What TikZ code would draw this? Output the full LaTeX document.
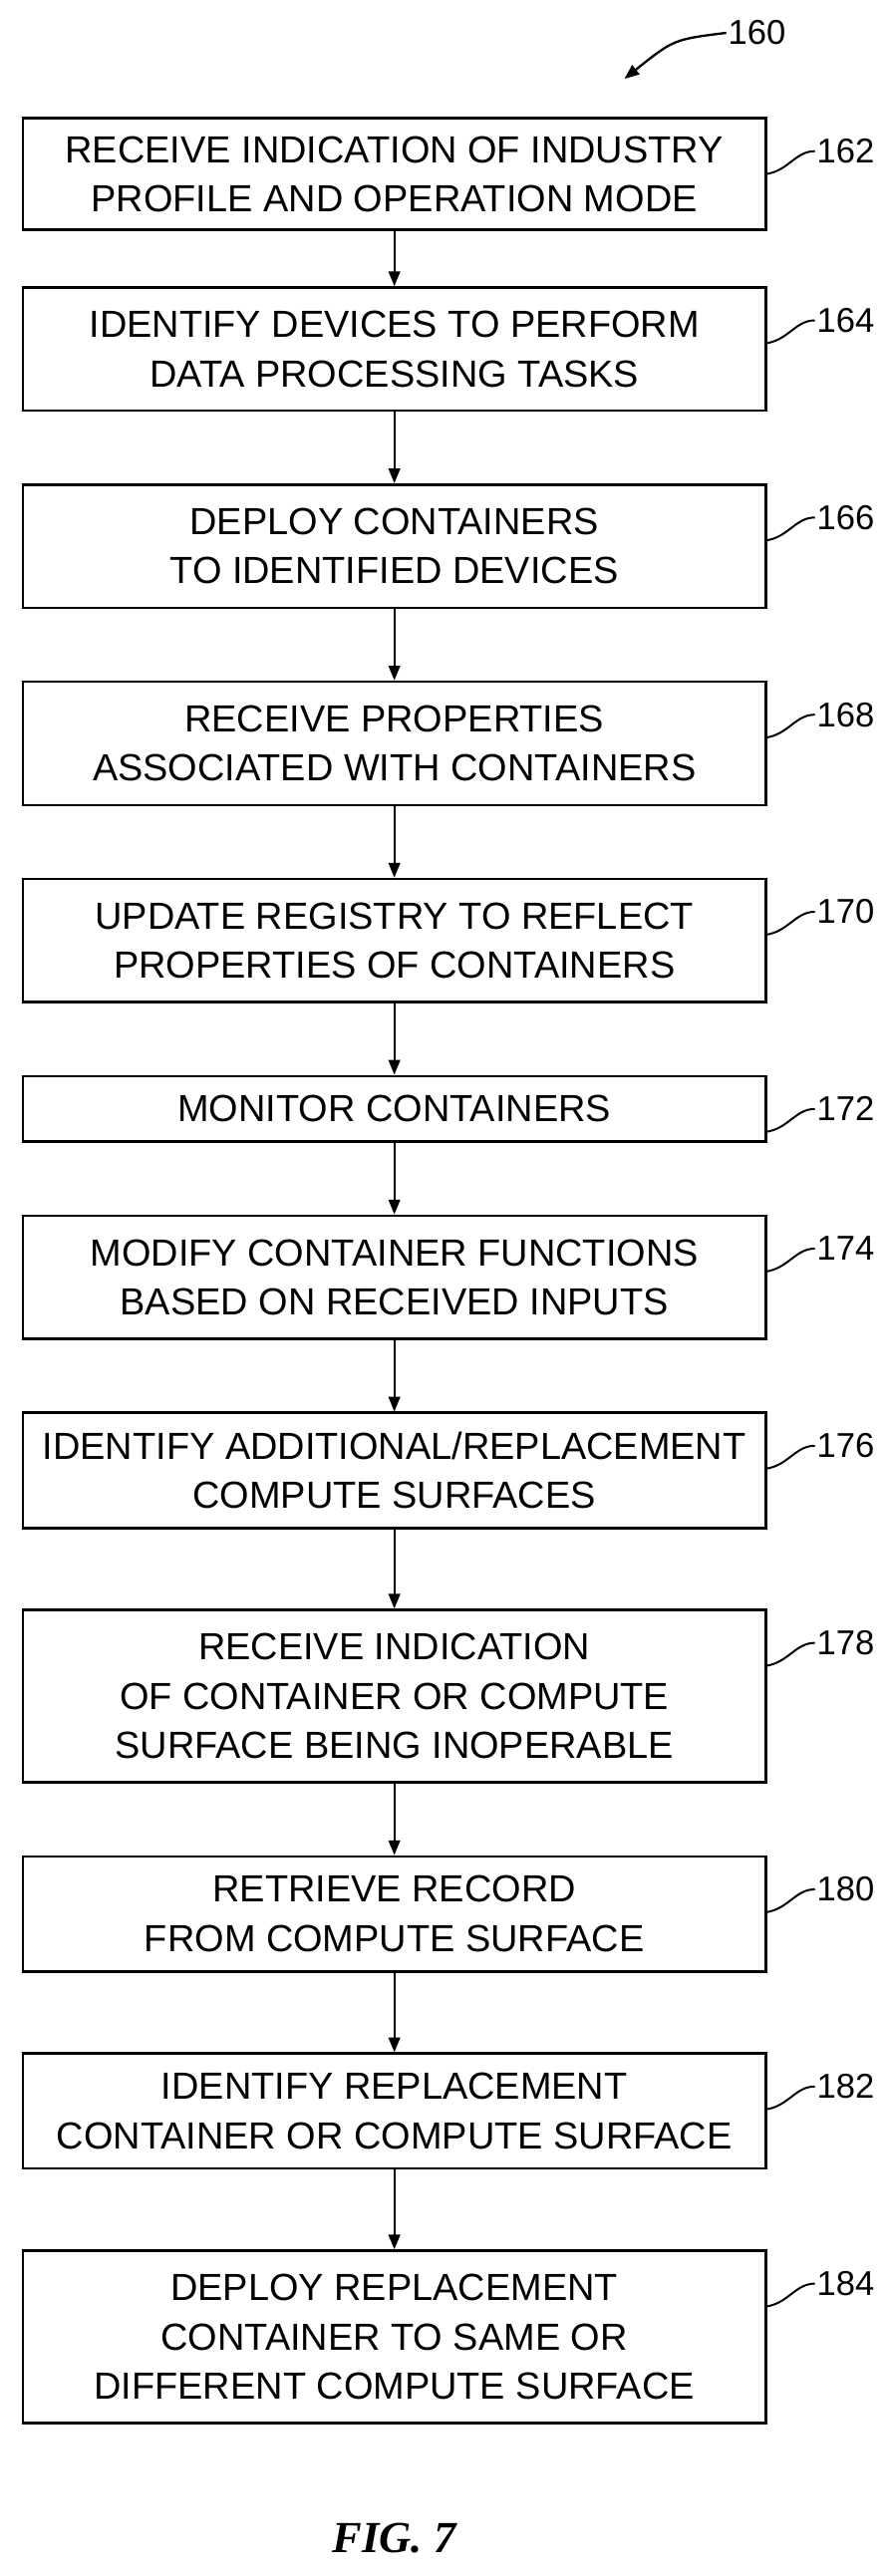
\documentclass[tikz,border=0pt]{standalone}
\usepackage{fontspec}
\setmainfont{Liberation Sans}
\newfontfamily\figfont{Liberation Serif}
\usetikzlibrary{arrows.meta}
\begin{document}
\begin{tikzpicture}[x=1pt,y=-1pt,
 box/.style={draw,line width=1.6pt,minimum width=452pt,align=center,font=\fontsize{23}{30}\selectfont,inner sep=0pt},
 arr/.style={line width=1.4pt,-{Triangle[length=9pt,width=7pt]}},
 lbl/.style={font=\fontsize{21}{22}\selectfont,anchor=west,inner sep=1pt},
 lead/.style={line width=1.2pt}]
\useasboundingbox (0,0) rectangle (542,1568);
\def\bx#1#2#3#4{\node[box,minimum height=#3-#2 pt] (b#1) at (240,{(#2+#3)/2}) {#4};
 \node[lbl] (l#1) at (496,#2+20) {#1};
 \draw[lead] (466,#2+34) .. controls (480,#2+32) and (484,#2+20) .. (l#1.west);}
\bx{162}{72}{140}{RECEIVE INDICATION OF INDUSTRY\\PROFILE AND OPERATION MODE}
\bx{164}{175}{250}{IDENTIFY DEVICES TO PERFORM\\DATA PROCESSING TASKS}
\bx{166}{295}{370}{DEPLOY CONTAINERS\\TO IDENTIFIED DEVICES}
\bx{168}{415}{490}{RECEIVE PROPERTIES\\ASSOCIATED WITH CONTAINERS}
\bx{170}{535}{610}{UPDATE REGISTRY TO REFLECT\\PROPERTIES OF CONTAINERS}
\bx{172}{655}{695}{MONITOR CONTAINERS}
\bx{174}{740}{815}{MODIFY CONTAINER FUNCTIONS\\BASED ON RECEIVED INPUTS}
\bx{176}{860}{930}{IDENTIFY ADDITIONAL/REPLACEMENT\\COMPUTE SURFACES}
\bx{178}{980}{1085}{RECEIVE INDICATION\\OF CONTAINER OR COMPUTE\\SURFACE BEING INOPERABLE}
\bx{180}{1130}{1200}{RETRIEVE RECORD\\FROM COMPUTE SURFACE}
\bx{182}{1250}{1320}{IDENTIFY REPLACEMENT\\CONTAINER OR COMPUTE SURFACE}
\bx{184}{1370}{1475}{DEPLOY REPLACEMENT\\CONTAINER TO SAME OR\\DIFFERENT COMPUTE SURFACE}
\foreach \a/\b in {162/164,164/166,166/168,168/170,170/172,172/174,174/176,176/178,178/180,180/182,182/184}
 \draw[arr] (b\a.south) -- (b\b.north);
\node[lbl] (l160) at (442,20) {160};
\coordinate (t160) at (380,48);
\draw[arr] (l160.west) .. controls (410,24) .. (t160);
\node[font=\fontsize{27}{29}\figfont\itshape\bfseries] (fig) at (240,1545) {FIG. 7};
\end{tikzpicture}
\end{document}
